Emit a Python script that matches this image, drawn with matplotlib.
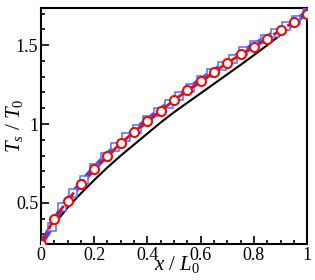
import numpy as np
import matplotlib
matplotlib.use("Agg")
import matplotlib.pyplot as plt
from matplotlib.ticker import MultipleLocator

# values
x_circ = [0.0, 0.05, 0.10, 0.15, 0.20, 0.25, 0.30, 0.35, 0.40, 0.45, 0.50,
          0.55, 0.60, 0.65, 0.70, 0.75, 0.80, 0.85, 0.90, 0.95, 1.00]
t_circ = [0.24, 0.40, 0.515, 0.62, 0.715, 0.80, 0.878, 0.951, 1.02, 1.084, 1.152,
          1.213, 1.270, 1.33, 1.388, 1.441, 1.488, 1.542, 1.595, 1.648, 1.70]

x_sq = [0.0, 0.04, 0.08, 0.12, 0.16, 0.20, 0.24, 0.28, 0.32, 0.36, 0.40, 0.44, 0.48,
        0.52, 0.56, 0.60, 0.64, 0.68, 0.72, 0.76, 0.80, 0.84, 0.88, 0.92, 0.96, 1.00]
t_sq = [0.24, 0.35, 0.475, 0.56, 0.645, 0.72, 0.79, 0.855, 0.915, 0.97, 1.025, 1.078,
        1.13, 1.18, 1.23, 1.278, 1.325, 1.37, 1.415, 1.46, 1.50, 1.54, 1.58, 1.62,
        1.66, 1.705]

x_line = [0.0, 0.05, 0.10, 0.15, 0.20, 0.25, 0.30, 0.35, 0.40, 0.45, 0.50,
          0.55, 0.60, 0.65, 0.70, 0.75, 0.80, 0.85, 0.90, 0.95, 1.00]
t_line = [0.24, 0.365, 0.47, 0.56, 0.645, 0.725, 0.80, 0.87, 0.94, 1.01, 1.075,
          1.135, 1.195, 1.255, 1.315, 1.375, 1.437, 1.50, 1.565, 1.632, 1.70]

plt.rcParams['font.family'] = ['Liberation Serif', 'DejaVu Serif']
plt.rcParams['mathtext.fontset'] = 'custom'
plt.rcParams['mathtext.rm'] = 'Liberation Serif'
plt.rcParams['mathtext.it'] = 'Liberation Serif:italic'

fig = plt.figure(figsize=(3.15, 2.8), dpi=100)
ax = fig.add_axes([0.130, 0.129, 0.845, 0.842])

ax.plot(x_line, t_line, '-', color='black', lw=1.5, zorder=2)
ax.plot(x_sq, t_sq, '-', color='#4048ff', lw=4, marker='s', ms=5.5,
        mfc='white', mec='#5a6aff', mew=1.1, zorder=3)
ax.plot(x_circ, t_circ, '--', color='#e01010', lw=2, dashes=(4, 2), zorder=4)
ax.plot(x_circ, t_circ, 'o', ms=6.5, mfc='white', mec='#e01010', mew=1.5, zorder=5)

ax.set_xlim(0, 1)
ax.set_ylim(0.24, 1.735)
ax.xaxis.set_minor_locator(MultipleLocator(0.05))
ax.yaxis.set_minor_locator(MultipleLocator(0.1))
ax.set_xticks([0, 0.2, 0.4, 0.6, 0.8, 1.0])
ax.set_xticklabels(['0', '0.2', '0.4', '0.6', '0.8', '1'])
ax.set_yticks([0.5, 1.0, 1.5])
ax.set_yticklabels(['0.5', '1', '1.5'])
ax.tick_params(which='both', direction='in', top=False, right=False,
               labelsize=13, width=1.2, pad=2)
ax.tick_params(which='major', length=6)
ax.tick_params(which='minor', length=3)
for s in ax.spines.values():
    s.set_linewidth(1.5)

ax.set_xlabel('$x$ / $L_0$', fontsize=15)
ax.set_ylabel('$T_s$ / $T_0$', fontsize=15)
ax.xaxis.set_label_coords(0.51, -0.045)
ax.yaxis.set_label_coords(-0.06, 0.5)

fig.savefig('out.png', dpi=100)
